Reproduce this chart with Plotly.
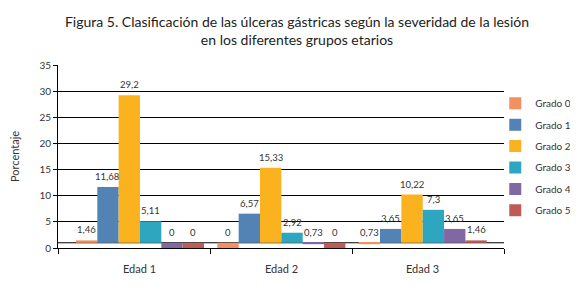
import plotly.graph_objects as go

categories = ["Edad 1", "Edad 2", "Edad 3"]
series_names = ["Grado 0", "Grado 1", "Grado 2", "Grado 3", "Grado 4", "Grado 5"]
grado0 = [1.46, 0, 0.73]
grado1 = [11.68, 6.57, 3.65]
grado2 = [29.2, 15.33, 10.22]
grado3 = [5.11, 2.92, 7.3]
grado4 = [0, 0.73, 3.65]
grado5 = [0, 0, 1.46]
label_text = [["1,46", "0", "0,73"], ["11,68", "6,57", "3,65"], ["29,2", "15,33", "10,22"],
              ["5,11", "2,92", "7,3"], ["0", "0,73", "3,65"], ["0", "0", "1,46"]]
colors = ["#F0915F", "#5383B5", "#FBB21F", "#2FA6BF", "#8068A2", "#BE5B55"]
series = [grado0, grado1, grado2, grado3, grado4, grado5]

BASE = 1  # horizontal baseline where bars start (as in source chart)
BW = 0.151
FONT = "Lato"

fig = go.Figure()
nser = len(series)
for i, (name, vals, col) in enumerate(zip(series_names, series, colors)):
    off = (i - (nser - 1) / 2) * BW
    xs = [k + off for k in range(len(categories))]
    fig.add_trace(go.Bar(
        x=xs, y=[v - BASE for v in vals], base=BASE, width=BW,
        name=name, legendgroup=name, marker=dict(color=col, line=dict(width=0)),
        hoverinfo="skip"))
    for x, v, t in zip(xs, vals, label_text[i]):
        fig.add_annotation(x=x, y=max(v, BASE), text=t, showarrow=False,
                           yanchor="bottom", yshift=3,
                           font=dict(family=FONT, size=9.5, color="#333333"))

for k, c in enumerate(categories):
    fig.add_annotation(x=k, y=0, yref="y", text=c, showarrow=False, yanchor="top",
                       yshift=-12, font=dict(family=FONT, size=11, color="#333333"))

XMIN, XMAX = -0.58, 2.575
fig.add_shape(type="line", xref="x", yref="y", x0=XMIN, x1=XMAX, y0=BASE, y1=BASE,
              line=dict(color="#000000", width=1), layer="below")

fig.update_layout(
    width=578, height=306,
    margin=dict(l=50, r=82, t=57, b=66, autoexpand=False),
    paper_bgcolor="white", plot_bgcolor="white",
    barmode="overlay",
    title=dict(text="Figura 5. Clasificación de las úlceras gástricas según la severidad de la lesión<br>en los diferentes grupos etarios",
               x=0.5, xanchor="center", y=0.937, yanchor="top",
               font=dict(family=FONT, size=14, color="#222222")),
    showlegend=True,
    legend=dict(xref="container", yref="container", x=0.843, y=0.736,
                xanchor="left", yanchor="top",
                font=dict(family=FONT, size=10, color="#333333"),
                tracegroupgap=2.4, itemwidth=30, bgcolor="rgba(0,0,0,0)"),
    xaxis=dict(range=[XMIN, XMAX], showgrid=False, zeroline=False,
               showline=True, linecolor="#000000", linewidth=1,
               tickvals=[XMIN, 0.5, 1.5, XMAX], ticktext=["", "", "", ""],
               ticks="outside", ticklen=5, tickcolor="#000000"),
    yaxis=dict(range=[0, 35], dtick=5, showgrid=True, gridcolor="#000000", gridwidth=1,
               zeroline=False, showline=True, linecolor="#000000", linewidth=1,
               ticks="outside", ticklen=4, tickcolor="#000000",
               tickfont=dict(family=FONT, size=10, color="#333333"),
               title=dict(text="Porcentaje", standoff=24,
                          font=dict(family=FONT, size=11, color="#333333"))),
)

fig.write_html("out.html")
